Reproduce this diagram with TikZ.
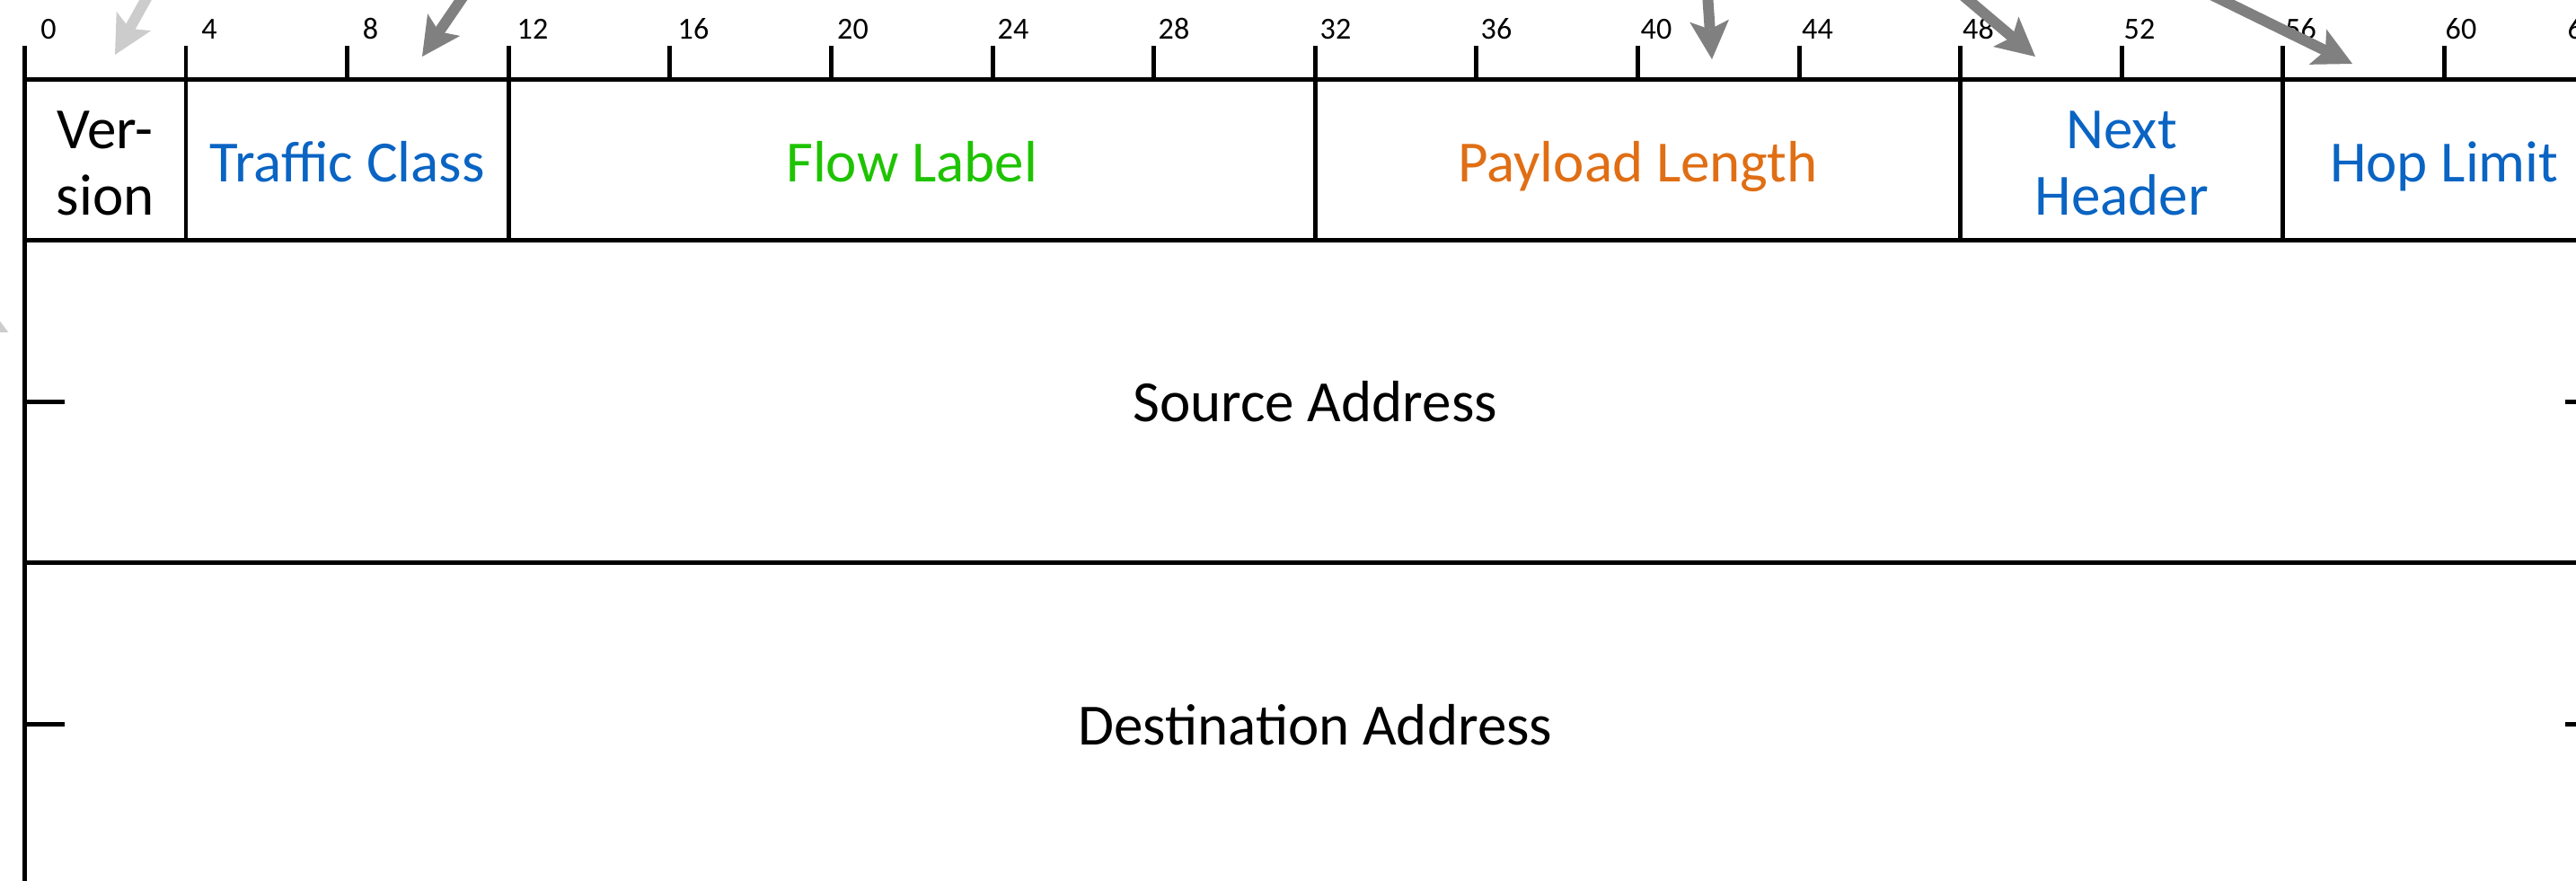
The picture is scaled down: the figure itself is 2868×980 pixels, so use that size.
\documentclass[tikz,border=0pt]{standalone}
\usepackage{fontspec}
\setmainfont{Carlito}
\usetikzlibrary{arrows.meta}

\definecolor{fieldblue}{RGB}{10,100,195}
\definecolor{fieldgreen}{RGB}{30,195,0}
\definecolor{fieldorange}{RGB}{224,110,20}
\definecolor{arrowdark}{RGB}{128,128,128}
\definecolor{arrowlight}{RGB}{204,204,204}

\begin{document}
% one unit = one pixel of a 2868 x 980 canvas, y grows downwards
% bit b sits at x = 27.4 + 44.9 b ; the header row starts at y = 88
\begin{tikzpicture}[x=0.3168pt, y=-0.3168pt,
  grid/.style={line width=1.58pt, black},
  bitnum/.style={font=\fontsize{10.8}{12}\selectfont, anchor=base, inner sep=0pt},
  field/.style={font=\fontsize{20.6}{23.4}\selectfont, align=center, inner sep=0pt, anchor=base},
  pointer/.style={line width=3.8pt, line cap=butt,
    -{Stealth[length=13.6pt, width=13.9pt, inset=3pt, line width=0pt]}},
]
\useasboundingbox (0,0) rectangle (2868,980);

% outer frame and row separators
\draw[grid] (27.4,51) -- (27.4,995);
\draw[grid] ({27.4+44.9*64},51) -- ({27.4+44.9*64},995);
\foreach \y in {88,267.6,626.8}
  \draw[grid] (27.4,\y) -- ({27.4+44.9*64},\y);

% field boundaries in the first row
\foreach \b in {4,12,32,48,56}
  \draw[grid] ({27.4+44.9*\b},51) -- ({27.4+44.9*\b},267.6);

% bit ruler ticks
\foreach \b in {8,16,20,24,28,36,40,44,52,60}
  \draw[grid] ({27.4+44.9*\b},51) -- ({27.4+44.9*\b},88);

% half-way ticks of the 128-bit address rows
\foreach \y in {447.2,806.4} {
  \draw[grid] (27.4,\y) -- ({27.4+44.9},\y);
  \draw[grid] ({27.4+44.9*63},\y) -- ({27.4+44.9*64},\y);
}

% bit numbers
\foreach \n/\cx in {0/54,4/233,8/412.5,12/593,16/772,20/949.5,24/1128,28/1307,
                    32/1487,36/1666,40/1844,44/2023.5,48/2202.5,52/2382,56/2561.5,
                    60/2740,64/2876}
  \node[bitnum] (n\n) at (\cx,43) {\n};

% header fields (two-line labels sit on the baseline of their last line)
\node[field] (ver) at ({27.4+44.9*2},239) {Ver-\\sion};
\node[field, text=fieldblue] (tc) at ({27.4+44.9*8},202) {Traffic Class};
\node[field, text=fieldgreen] (fl) at ({27.4+44.9*22},202) {Flow Label};
\node[field, text=fieldorange] (pl) at ({27.4+44.9*40},202) {Payload Length};
\node[field, text=fieldblue] (nh) at ({27.4+44.9*52},239) {Next\\Header};
\node[field, text=fieldblue] (hl) at ({27.4+44.9*60},202) {Hop Limit};
\node[field] (src) at ({27.4+44.9*32},469) {Source Address};
\node[field] (dst) at ({27.4+44.9*32},829) {Destination Address};

% pointers coming in from above
\coordinate (verTail) at (230,-122);   \coordinate (verTip) at (128,61);
\coordinate (tcTail)  at (599,-126);   \coordinate (tcTip)  at (470,63);
\coordinate (plTail)  at (1892.5,-132);\coordinate (plTip)  at (1906,66);
\coordinate (nhTail)  at (2042.5,-126);\coordinate (nhTip)  at (2266,63);
\coordinate (hlTail)  at (2329,-71);   \coordinate (hlTip)  at (2619,71);
\coordinate (srcTail) at (-281,228);   \coordinate (srcTip) at (9.3,370);

\draw[pointer, arrowlight] (verTail) -- (verTip);
\draw[pointer, arrowlight] (srcTail) -- (srcTip);
\draw[pointer, arrowdark] (tcTail) -- (tcTip);
\draw[pointer, arrowdark] (plTail) -- (plTip);
\draw[pointer, arrowdark] (nhTail) -- (nhTip);
\draw[pointer, arrowdark] (hlTail) -- (hlTip);
\end{tikzpicture}
\end{document}
